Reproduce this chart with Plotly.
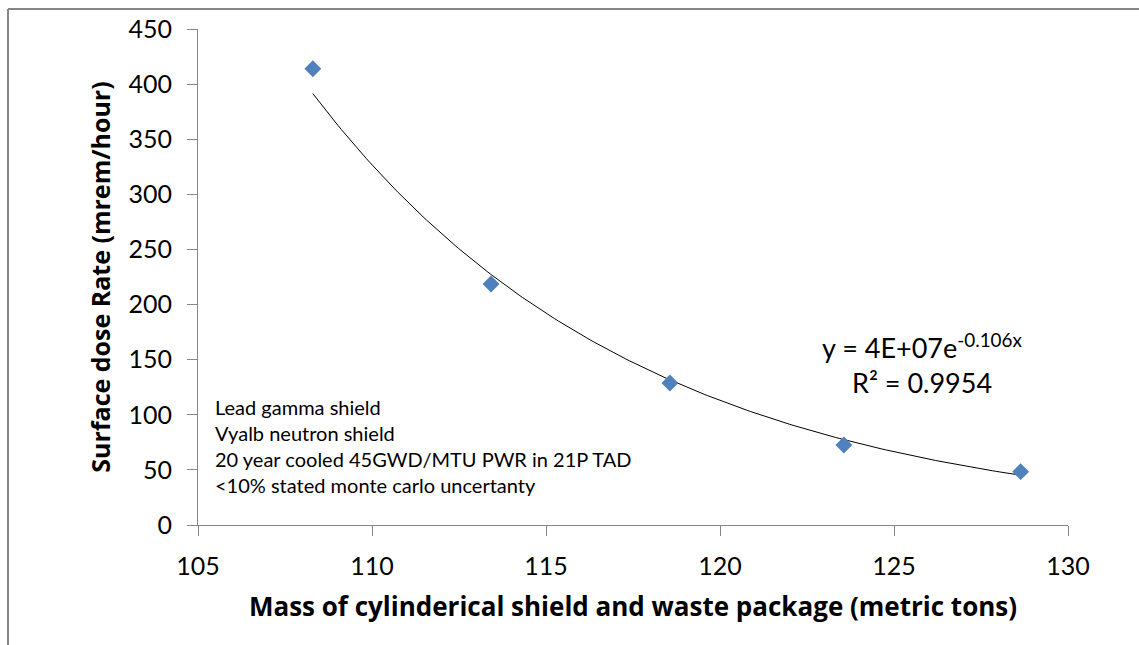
import numpy as np
import plotly.graph_objects as go

mass_tons = [108.3, 113.42, 118.56, 123.56, 128.64]
dose_rate = [414, 218.6, 128.8, 72.6, 48.4]
x_ticks = [105, 110, 115, 120, 125, 130]
y_ticks = [0, 50, 100, 150, 200, 250, 300, 350, 400, 450]

# Exponential trendline (least squares on log y, as Excel does)
b, ln_a = np.polyfit(mass_tons, np.log(dose_rate), 1)
xf = np.linspace(min(mass_tons), max(mass_tons), 200)
yf = np.exp(ln_a) * np.exp(b * xf)

FONT = "Lato"
TFONT = "Open Sans"
AX = "#868686"

fig = go.Figure()
fig.add_trace(go.Scatter(x=xf, y=yf, mode="lines",
                         line=dict(color="black", width=1), hoverinfo="skip"))
fig.add_trace(go.Scatter(x=mass_tons, y=dose_rate, mode="markers",
                         marker=dict(symbol="diamond", size=13, color="#4F81BD",
                                     line=dict(width=0))))

fig.update_layout(
    width=1139, height=645,
    margin=dict(l=198, r=71, t=29, b=120),
    paper_bgcolor="white", plot_bgcolor="white",
    showlegend=False,
    font=dict(family=FONT, color="black"),
    xaxis=dict(range=[105, 130], tickvals=x_ticks, showgrid=False, zeroline=False,
               showline=True, linecolor=AX, linewidth=1, ticks="outside",
               ticklen=10, tickcolor=AX, tickfont=dict(size=25, family=FONT),
               ticklabelstandoff=9,
               title=dict(text="<b>Mass of cylinderical shield and waste package (metric tons)</b>",
                          font=dict(size=26, family=TFONT, weight=700), standoff=18)),
    yaxis=dict(range=[0, 450], tickvals=y_ticks, showgrid=False, zeroline=False,
               showline=True, linecolor=AX, linewidth=1, ticks="outside",
               ticklen=10, tickcolor=AX, tickfont=dict(size=25, family=FONT),
               ticklabelstandoff=10,
               title=dict(text="<b>Surface dose Rate (mrem/hour)</b>",
                          font=dict(size=25, family=TFONT, weight=700), standoff=10)),
)

# Chart-area border (top and left edges visible)
bx = (8 - 198) / 870
by = (525 - 9) / 496
fig.add_shape(type="line", xref="paper", yref="paper", x0=bx, x1=bx, y0=-0.3, y1=by,
              line=dict(color=AX, width=2))
fig.add_shape(type="line", xref="paper", yref="paper", x0=bx, x1=1.2, y0=by, y1=by,
              line=dict(color=AX, width=2))

fig.add_annotation(x=(213 - 198) / 870, y=(525 - 393) / 496, xref="paper", yref="paper",
                   xanchor="left", yanchor="top", align="left", showarrow=False,
                   text="Lead gamma shield<br>Vyalb neutron shield<br>"
                        "20 year cooled 45GWD/MTU PWR in 21P TAD<br>"
                        "<10% stated monte carlo uncertanty",
                   font=dict(size=20, family=FONT))
fig.add_annotation(x=(922 - 198) / 870, y=(525 - 346) / 496, xref="paper", yref="paper",
                   xanchor="center", yanchor="middle", showarrow=False,
                   text="y = 4E+07e<sup>-0.106x</sup>", font=dict(size=27, family=FONT))
fig.add_annotation(x=(922 - 198) / 870, y=(525 - 382) / 496, xref="paper", yref="paper",
                   xanchor="center", yanchor="middle", showarrow=False,
                   text="R² = 0.9954", font=dict(size=27, family=FONT))

fig.write_html("out.html")
